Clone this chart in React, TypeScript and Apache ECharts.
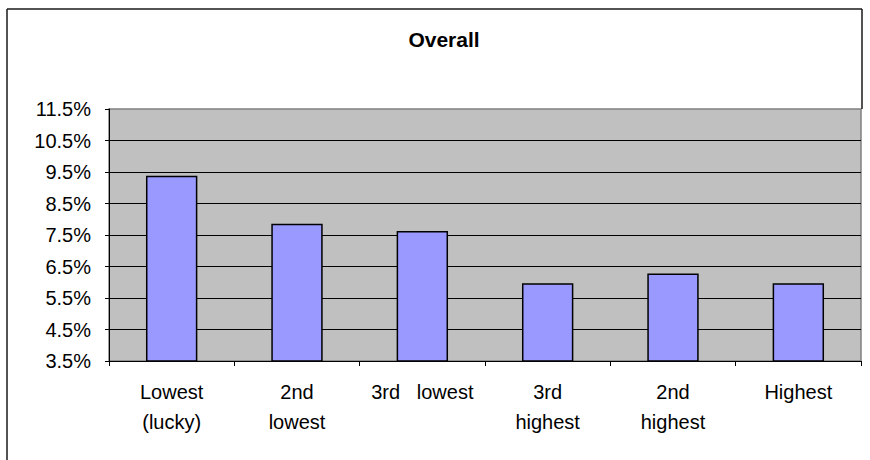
import React, { useEffect, useRef } from "react";
import * as echarts from "echarts";

const titleText = "Overall";
const categories = [
  "Lowest\n(lucky)",
  "2nd\nlowest",
  "3rd   lowest",
  "3rd\nhighest",
  "2nd\nhighest",
  "Highest",
];
const values = [9.38, 7.86, 7.63, 5.97, 6.28, 5.97];
const yMin = 3.5;
const yMax = 11.5;
const yStep = 1;

const FONT = "'Liberation Sans', Arial, sans-serif";

export default function App() {
  const ref = useRef<HTMLDivElement>(null);

  useEffect(() => {
    if (!ref.current) return;
    const chart = echarts.init(ref.current, undefined, { renderer: "svg" });
    chart.setOption({
      animation: false,
      backgroundColor: "#ffffff",
      textStyle: { fontFamily: FONT },
      grid: {
        left: 109,
        top: 109,
        right: 9,
        bottom: 99,
        show: true,
        backgroundColor: "#c0c0c0",
        borderColor: "#808080",
        borderWidth: 1.5,
      },
      graphic: [
        {
          type: "line",
          shape: { x1: 7, y1: 9, x2: 7, y2: 460 },
          style: { stroke: "#1a1a1a", lineWidth: 1.5 },
          z: 100,
        },
        {
          type: "line",
          shape: { x1: 7, y1: 9, x2: 862, y2: 9 },
          style: { stroke: "#1a1a1a", lineWidth: 1.5 },
          z: 100,
        },
        {
          type: "line",
          shape: { x1: 862, y1: 9, x2: 862, y2: 109 },
          style: { stroke: "#1a1a1a", lineWidth: 1.5 },
          z: 100,
        },
        {
          type: "text",
          x: 444,
          y: 39,
          style: {
            text: titleText,
            fontFamily: FONT,
            fontSize: 21,
            fontWeight: "bold",
            fill: "#000",
            textAlign: "center",
            textVerticalAlign: "middle",
          },
        },
      ],
      xAxis: {
        type: "category",
        data: categories,
        axisLine: { show: true, lineStyle: { color: "#000", width: 1 } },
        axisTick: { show: true, length: 5, lineStyle: { color: "#000" } },
        axisLabel: {
          interval: 0,
          margin: 16,
          color: "#000",
          fontFamily: FONT,
          fontSize: 20,
          lineHeight: 30,
          align: "center",
        },
        splitLine: { show: false },
      },
      yAxis: {
        type: "value",
        min: yMin,
        max: yMax,
        interval: yStep,
        axisLine: { show: true, lineStyle: { color: "#000", width: 1 } },
        axisTick: { show: true, length: 4, lineStyle: { color: "#000" } },
        axisLabel: {
          margin: 18,
          color: "#000",
          fontFamily: FONT,
          fontSize: 20,
          formatter: (v: number) => v.toFixed(1) + "%",
        },
        splitLine: {
          show: true,
          showMaxLine: false,
          lineStyle: { color: "#000", width: 1 },
        },
      },
      series: [
        {
          type: "bar",
          data: values,
          barWidth: "41%",
          itemStyle: {
            color: "#9999ff",
            borderColor: "#000",
            borderWidth: 1.5,
          },
        },
      ],
    });
    return () => chart.dispose();
  }, []);

  return (
    <div
      ref={ref}
      style={{ position: "fixed", left: 0, top: 0, width: 870, height: 460 }}
    />
  );
}
